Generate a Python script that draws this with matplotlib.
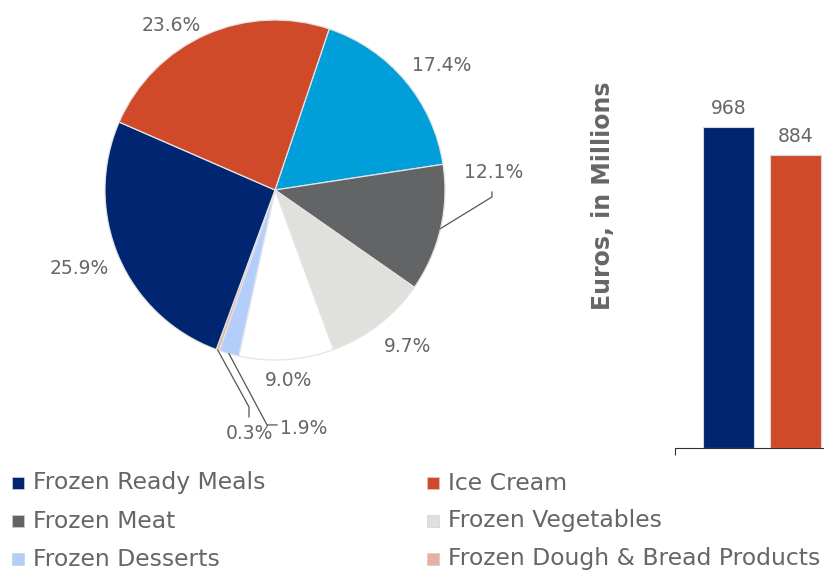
"""Frozen food market: category shares and sales"""

import matplotlib.pyplot as plt
import matplotlib.patches as mpatches
import numpy as np

W, H = 824, 571

# pie slices, clockwise from the top
shares = [17.4, 12.1, 9.7, 9.0, 1.9, 0.3, 25.9, 23.6]
share_colors = ['#009fda', '#636466', '#e0e0dc', '#ffffff',
                '#b3cefb', '#e8b0a0', '#002672', '#d04a2a']

# label anchors in units of pie radius (None -> uses a leader line)
label_pos = [(0.98, 0.73), None, (0.78, -0.92), (0.08, -1.12),
             None, None, (-1.15, -0.46), (-0.61, 0.97)]
# leader lines: slice index -> (elbow, end, text position, ha)
leaders = {
    1: ((1.276, -0.041), (1.276, -0.012), (1.285, 0.10), 'center'),
    5: ((-0.153, -1.276), (-0.153, -1.335), (-0.153, -1.43), 'center'),
    4: ((-0.047, -1.382), (0.012, -1.382), (0.032, -1.40), 'left'),
}

# sales, euros in millions
sales = [968, 884]
sales_colors = ['#002672', '#d04a2a']

legend_names = ['Frozen Ready Meals', 'Ice Cream', 'Frozen Meat',
                'Frozen Vegetables', 'Frozen Desserts',
                'Frozen Dough & Bread Products']
legend_colors = ['#002672', '#d04a2a', '#636466', '#e0e0dc',
                 '#b3cefb', '#e8b0a0']

txt = '#666666'

fig = plt.figure(figsize=(W/100, H/100), dpi=100)

# --- pie ---
R, cx, cy = 170, 275, 190
ax = fig.add_axes([(cx - 1.6*R)/W, (H - cy - 1.6*R)/H, 3.2*R/W, 3.2*R/H])
wedges, _ = ax.pie(shares, colors=share_colors, startangle=71.4,
                   counterclock=False, radius=1,
                   wedgeprops=dict(edgecolor='#e4e4e4', linewidth=0.9))
ax.set_xlim(-1.6, 1.6)
ax.set_ylim(-1.6, 1.6)
ax.set_aspect('equal')
ax.axis('off')

for i, (w, s) in enumerate(zip(wedges, shares)):
    lab = f'{s:.1f}%'
    if i in leaders:
        elbow, end, tpos, ha = leaders[i]
        mid = np.deg2rad((w.theta1 + w.theta2) / 2)
        start = (np.cos(mid), np.sin(mid))
        ax.plot([start[0], elbow[0], end[0]], [start[1], elbow[1], end[1]],
                color='#555555', lw=0.9, clip_on=False)
        ax.text(tpos[0], tpos[1], lab, ha=ha, va='center',
                fontsize=13.5, color=txt)
    else:
        x, y = label_pos[i]
        ax.text(x, y, lab, ha='center', va='center', fontsize=13.5, color=txt)

# --- bars (right-hand panel, running off the edge) ---
step = 67
x0 = 675
left = -(728.5 - x0) / step
bx = fig.add_axes([x0/W, (H - 448)/H, (W - x0)/W, 1100*(321/968)/H])
bars = bx.bar(np.arange(len(sales)), sales, width=0.76, color=sales_colors,
              edgecolor='#d8d8d8', linewidth=0.8)
bx.bar_label(bars, padding=6.5, fontsize=13.5, color=txt)
bx.set_xlim(left, left + (W - x0)/step)
bx.set_ylim(0, 1100)
for side in ['top', 'right', 'left']:
    bx.spines[side].set_visible(False)
bx.spines['bottom'].set_color('#333333')
bx.set_yticks([])
bx.set_xticks([left])
bx.set_xticklabels([])
bx.tick_params(axis='x', length=5, color='#333333')
fig.text(603/W, 1 - 196/H, 'Euros, in Millions', rotation=90,
         ha='center', va='center', fontsize=17, fontweight='bold', color=txt)

# --- legend ---
for i, (name, col) in enumerate(zip(legend_names, legend_colors)):
    c, r = i % 2, i // 2
    lx = 12 + c*415
    ly = 483 + r*38
    fig.patches.append(mpatches.Rectangle(
        (lx/W, 1 - (ly + 6)/H), 12/W, 12/H, transform=fig.transFigure,
        facecolor=col, edgecolor='#d0d0d0', linewidth=0.5))
    fig.text((lx + 21)/W, 1 - ly/H, name, ha='left', va='center',
             fontsize=16.9, color=txt)

fig.savefig('out.png', dpi=100)
